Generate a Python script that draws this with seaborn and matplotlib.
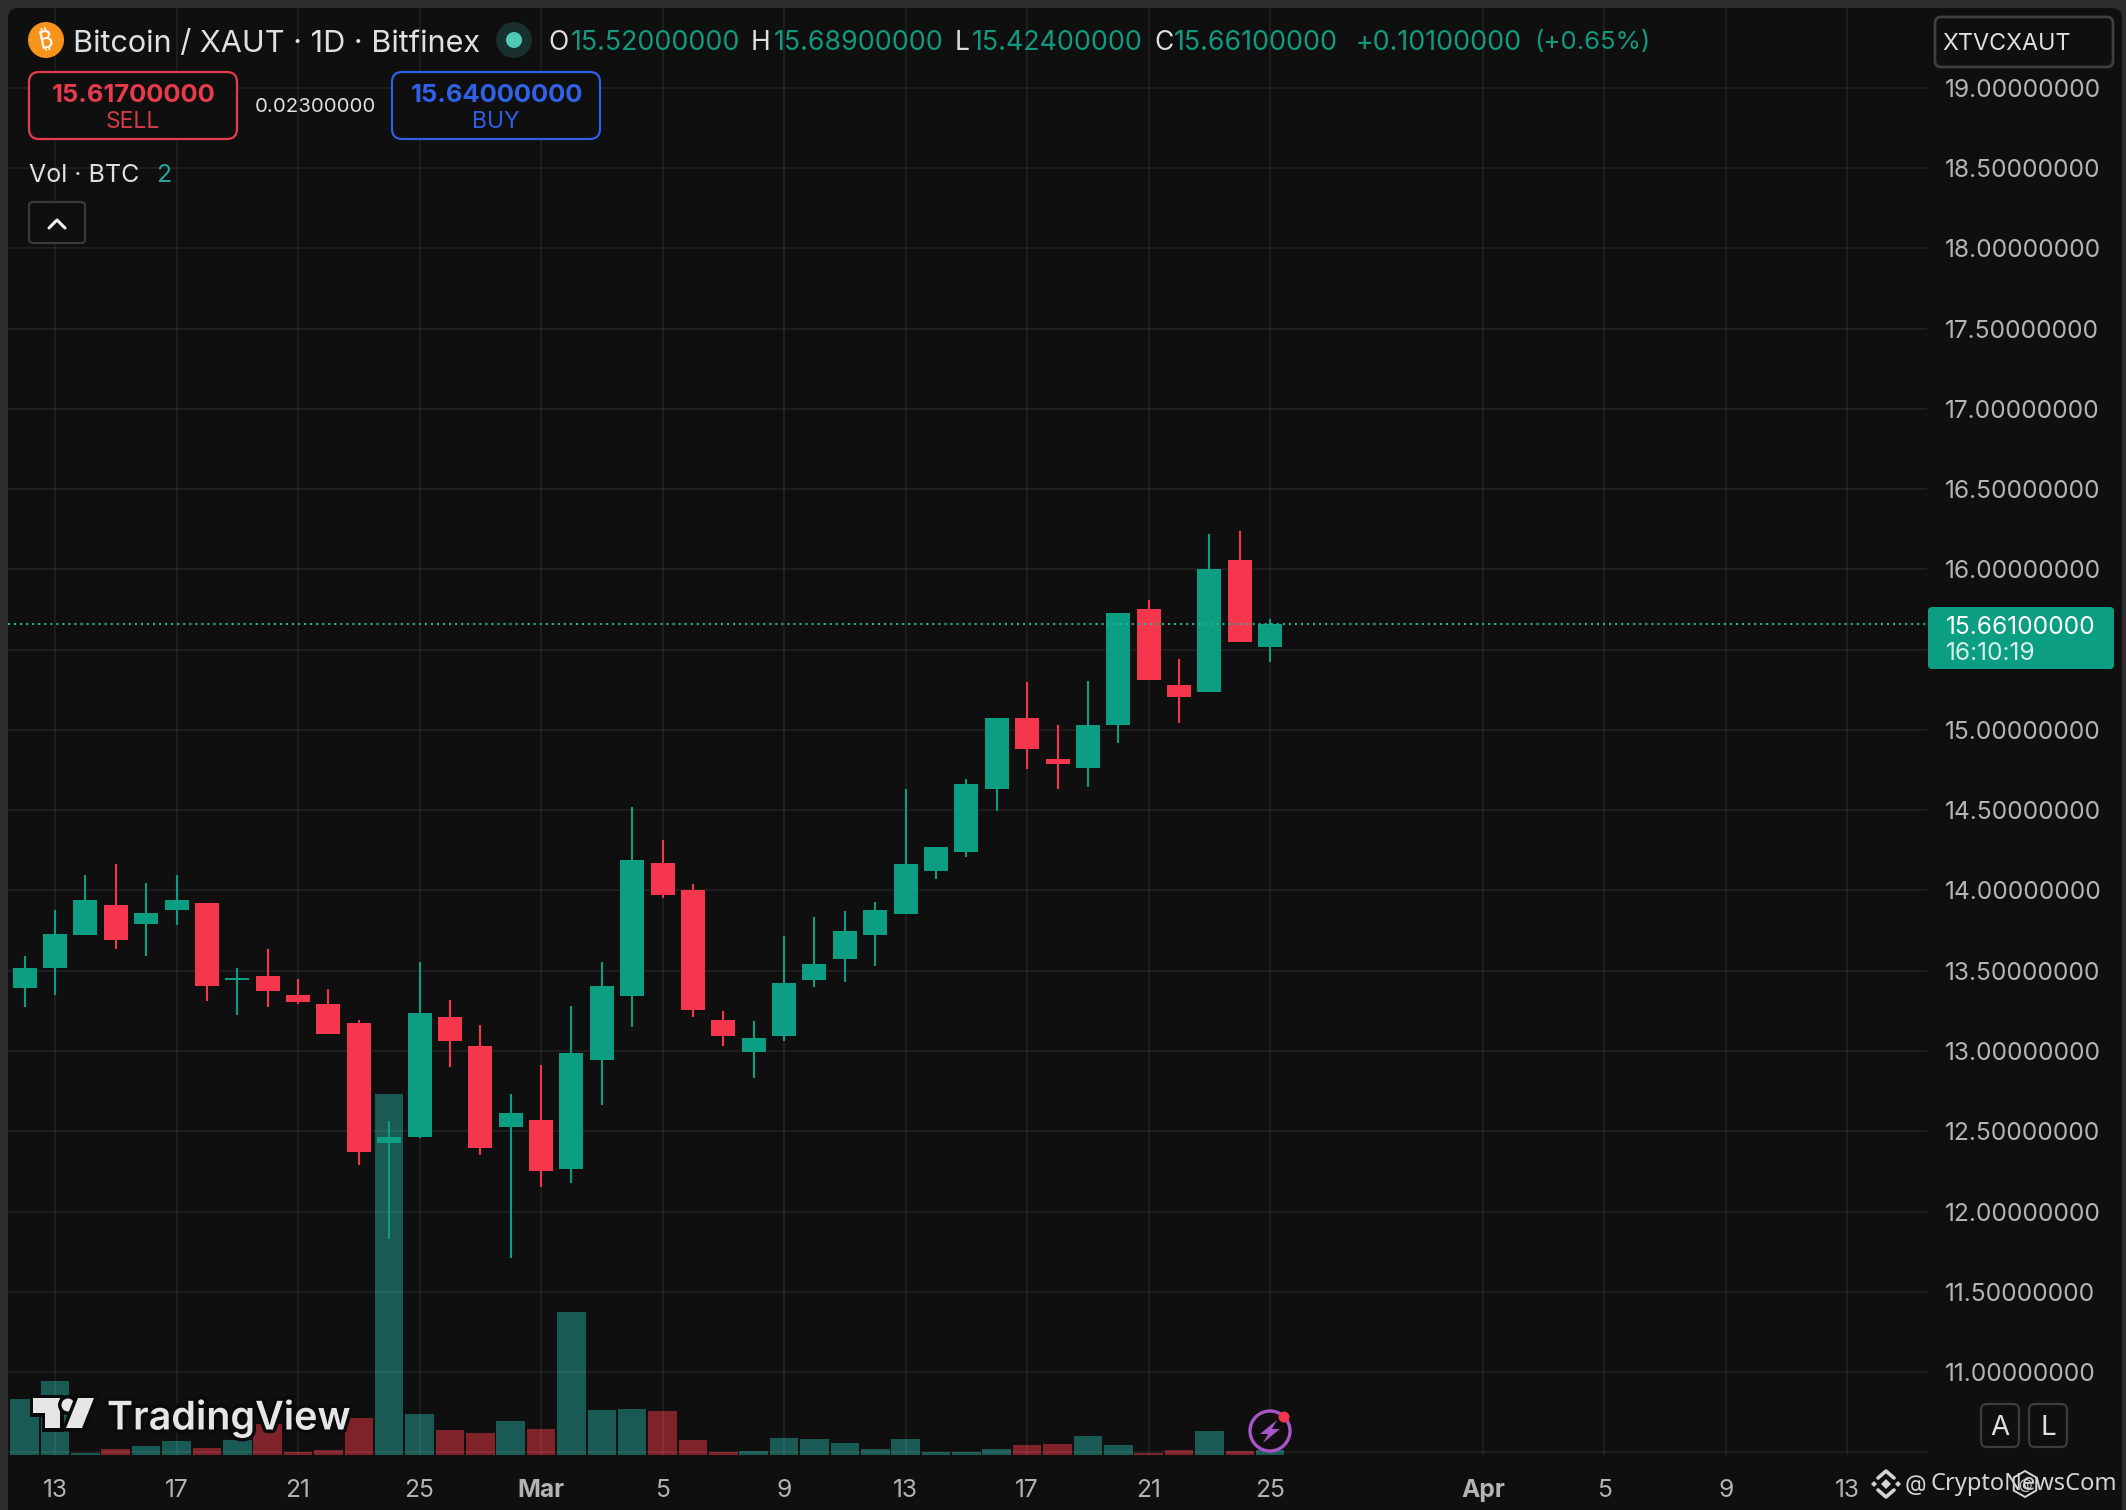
"""Bitcoin / XAUT daily candles with volume, dark TradingView look."""

import matplotlib
matplotlib.use('Agg')
import matplotlib.pyplot as plt
import matplotlib.patheffects as pe
from matplotlib.patches import Circle, FancyBboxPatch, Polygon, RegularPolygon
import numpy as np
import pandas as pd
import seaborn as sns

# day number, Feb 13 = 0
days = list(range(-1, 41))

opens = [13.394, 13.519, 13.724, 13.909, 13.793, 13.878, 13.922, 13.442, 13.467, 13.348,
         13.292, 13.174, 12.424, 12.466, 13.211, 13.031, 12.526, 12.570, 12.266, 12.946,
         13.342, 14.171, 14.003, 13.193, 12.993, 13.093, 13.442, 13.573, 13.722, 13.853,
         14.121, 14.242, 14.632, 15.075, 14.819, 14.765, 15.031, 15.754, 15.280, 15.239,
         16.059, 15.520]
highs = [13.591, 13.878, 14.096, 14.165, 14.046, 14.096, 13.922, 13.515, 13.635, 13.448,
         13.388, 13.191, 12.563, 13.554, 13.317, 13.159, 12.732, 12.912, 13.280, 13.554,
         14.520, 14.312, 14.040, 13.251, 13.189, 13.716, 13.836, 13.874, 13.930, 14.634,
         14.271, 14.693, 15.075, 15.299, 15.031, 15.305, 15.729, 15.810, 15.442, 16.221,
         16.240, 15.689]
lows = [13.276, 13.348, 13.724, 13.635, 13.593, 13.782, 13.313, 13.226, 13.276, 13.292,
        13.108, 12.289, 11.830, 12.457, 12.902, 12.352, 11.710, 12.150, 12.179, 12.663,
        13.147, 13.953, 13.211, 13.031, 12.831, 13.062, 13.396, 13.432, 13.527, 13.853,
        14.072, 14.209, 14.497, 14.757, 14.632, 14.645, 14.921, 15.314, 15.044, 15.239,
        15.548, 15.424]
closes = [13.517, 13.729, 13.940, 13.693, 13.859, 13.940, 13.407, 13.454, 13.375, 13.307,
          13.108, 12.372, 12.462, 13.236, 13.064, 12.397, 12.613, 12.254, 12.987, 13.404,
          14.190, 13.972, 13.257, 13.093, 13.081, 13.423, 13.542, 13.747, 13.878, 14.165,
          14.271, 14.664, 15.075, 14.884, 14.788, 15.031, 15.729, 15.314, 15.206, 16.003,
          15.548, 15.661]
volumes = [56, 74, 2, 6, 9, 14, 7, 15, 31, 3, 5, 37, 361, 41, 25, 22, 34, 26, 143, 45,
           46, 44, 15, 3, 4, 17, 16, 12, 6, 16, 3, 3, 6, 10, 11, 19, 10, 2, 5, 24, 4, 5]

price_ticks = [10.5, 11, 11.5, 12, 12.5, 13, 13.5, 14, 14.5, 15, 15.5, 16, 16.5, 17, 17.5, 18, 18.5, 19]
date_ticks = [0, 4, 8, 12, 16, 20, 24, 28, 32, 36, 40, 47, 51, 55, 59]
date_labels = ['13', '17', '21', '25', 'Mar', '5', '9', '13', '17', '21', '25', 'Apr', '5', '9', '13']

BG = '#0f0f0f'
FRAME = '#2d2d2d'
UP = '#0b9e82'
DOWN = '#f5364c'
VOL_UP = '#26a69a'
VOL_DOWN = '#f23645'
TEXT = '#b4b4b4'
LIGHT = '#e0e0e0'
W, H = 2126, 1510

sns.set_theme(style='dark', rc={'figure.facecolor': FRAME, 'axes.facecolor': BG})
plt.rcParams['font.family'] = ['Inter', 'DejaVu Sans']

fig = plt.figure(figsize=(W / 100, H / 100), dpi=100)

# rounded chart pane behind everything
back = fig.add_axes([0, 0, 1, 1], zorder=0)
back.set_xlim(0, W)
back.set_ylim(H, 0)
back.axis('off')
back.add_patch(FancyBboxPatch((8, 8), 2114, 1560, boxstyle='round,pad=0,rounding_size=10',
                              fc=BG, ec='none'))

ax = fig.add_axes([8 / W, (H - 1455) / H, 1919 / W, 1447 / H], zorder=2)
ax.patch.set_visible(False)
ax_vol = ax.twinx()
ax_vol.set_zorder(1)
ax.set_zorder(2)

df = pd.DataFrame({'day': days, 'open': opens, 'high': highs, 'low': lows,
                   'close': closes, 'volume': volumes})
df['up'] = df['close'] >= df['open']
df['base'] = df[['open', 'close']].min(axis=1)
df['height'] = (df['close'] - df['open']).abs()

# volume bars sit at the bottom on their own scale
sns.barplot(data=df, x='day', y='volume', hue='up', palette={True: VOL_UP, False: VOL_DOWN},
            native_scale=True, dodge=False, width=0.94, errorbar=None, saturation=1,
            alpha=0.5, linewidth=0, legend=False, ax=ax_vol)
ax_vol.set_ylim(0, 1447)
ax_vol.axis('off')

# candle bodies and wicks
for is_up, color in [(True, UP), (False, DOWN)]:
    part = df[df['up'] == is_up].sort_values('day')
    ax.vlines(part['day'], part['low'], part['high'], color=color, lw=1.5)
    sns.barplot(data=part, x='day', y='height', bottom=part['base'].to_numpy(),
                native_scale=True, width=0.79, errorbar=None, color=color, saturation=1,
                linewidth=0, ax=ax)

ax.axhline(closes[-1], color='#23b29a', lw=1.5, ls=(0, (1, 1.9)), zorder=4)

ax.set_xlim(-1.547, 61.62)
ax.set_ylim(10.483, 19.498)
ax.set_xticks(date_ticks)
ax.set_xticklabels(date_labels)
ax.set_yticks(price_ticks)
ax.set_yticklabels(['' if p == 10.5 else f'{p:.8f}' for p in price_ticks])
ax.yaxis.tick_right()
ax.set_xlabel('')
ax.set_ylabel('')
ax.grid(True, color='white', alpha=0.06, lw=1.5)
ax.set_axisbelow(True)
ax.tick_params(axis='x', length=0, pad=17, labelsize=17.7, labelcolor=TEXT)
ax.tick_params(axis='y', length=0, pad=13, labelsize=17.7, labelcolor=TEXT)
for lab in ax.get_xticklabels():
    if lab.get_text() in ('Mar', 'Apr'):
        lab.set_fontweight('bold')
for spine in ax.spines.values():
    spine.set_visible(False)

# everything from the app interface goes on a pixel overlay
ui = fig.add_axes([0, 0, 1, 1], zorder=5)
ui.set_xlim(0, W)
ui.set_ylim(H, 0)
ui.axis('off')


def label(x, y, s, size=16.5, color=LIGHT, ha='left', **kw):
    return ui.text(x, y, s, fontsize=size, color=color, ha=ha, va='center', **kw)


def box(x0, y0, x1, y1, ec, fc=BG, lw=1.6, r=8):
    ui.add_patch(FancyBboxPatch((x0, y0), x1 - x0, y1 - y0,
                                boxstyle=f'round,pad=0,rounding_size={r}', fc=fc, ec=ec, lw=lw))


# header line
ui.add_patch(Circle((46, 40), 18, fc='#f7931a', ec='none'))
label(46, 41, '\u20bf', size=18, color='white', ha='center',
      family=['Noto Sans', 'Roboto', 'Open Sans', 'Lato', 'Liberation Sans', 'DejaVu Sans'],
      fontweight='bold', rotation=12)
label(73, 44, 'Bitcoin / XAUT \u00b7 1D \u00b7 Bitfinex', size=22.05)
ui.add_patch(Circle((514, 40), 18, fc='#17302d', ec='none'))
ui.add_patch(Circle((514, 40), 8, fc='#4ecbb4', ec='none'))
for x, s in [(548, 'O'), (751, 'H'), (955, 'L'), (1154, 'C')]:
    label(x, 43, s, size=19)
for x, s in [(571, '15.52000000'), (774, '15.68900000'), (972, '15.42400000'),
             (1174, '15.66100000'), (1356, '+0.10100000'), (1534, '(+0.65%)')]:
    label(x, 43, s, size=19.3 if s != '(+0.65%)' else 18.5, color='#119a80')

# sell and buy buttons
box(29, 72, 237, 139, '#e63b4b', r=10)
label(134, 95, '15.61700000', size=18.4, color='#e63b4b', ha='center', fontweight='bold')
label(133, 122, 'SELL', size=16.5, color='#d63a48', ha='center')
label(315, 107, '0.02300000', size=14.7, ha='center')
box(392, 72, 600, 139, '#2f5fe0', r=10)
label(497, 95, '15.64000000', size=18.4, color='#2f62e6', ha='center', fontweight='bold')
label(496, 122, 'BUY', size=16.5, color='#2f5fe0', ha='center')

label(29, 175, 'Vol \u00b7 BTC', size=18)
label(156, 175, '2', size=18, color='#26a69a')
box(29, 202, 85, 243, '#3a3a3a', r=4)
ui.plot([49, 57, 65], [228, 220, 228], color='#eeeeee', lw=2.2)

# symbol box and last price tag
box(1935, 17, 2113, 67, '#3f3f3f', r=6, lw=2)
label(1942, 44, 'XTVCXAUT', size=16.8)
box(1928, 607, 2114, 669, UP, fc=UP, lw=0, r=4)
label(1946, 627, '15.66100000', size=17.7, color='white')
label(1946, 654, '16:10:19', size=17.7, color='#d3efe8')

# A / L buttons
box(1981, 1404, 2019, 1447, '#3c3c3c', r=6)
box(2029, 1404, 2067, 1447, '#3c3c3c', r=6)
label(2000, 1428, 'A', size=20, ha='center')
label(2048, 1428, 'L', size=20, ha='center')

# TradingView logo
halo = [pe.withStroke(linewidth=5, foreground='#0a0a0a')]
logo = '#e6e6e6'
ui.add_patch(Polygon([(33, 1398), (60, 1398), (60, 1428), (45, 1428), (45, 1413), (33, 1413)],
                     fc=logo, ec='none', path_effects=halo))
ui.add_patch(Circle((68, 1405), 6.5, fc=logo, ec='none', path_effects=halo))
ui.add_patch(Polygon([(78, 1398), (94, 1398), (82, 1428), (66, 1428)], fc=logo, ec='none',
                     path_effects=halo))
label(107, 1418, 'TradingView', size=28.4, color=logo, fontweight='semibold', path_effects=halo)

# lightning badge
ui.add_patch(Circle((1270, 1431), 20, fc=BG, ec='#a855c7', lw=2.4))
ui.add_patch(Polygon([(1277, 1420), (1260, 1434), (1268, 1434), (1263, 1443), (1280, 1429),
                      (1272, 1429)], fc='#a855c7', ec='none'))
ui.add_patch(Circle((1284, 1417), 5.5, fc='#f5364c', ec='none'))

# source watermark
mark = '#d4d4d4'
ui.plot([1878, 1886, 1894], [1478, 1471, 1478], color=mark, lw=2.6)
ui.plot([1878, 1886, 1894], [1490, 1497, 1490], color=mark, lw=2.6)
for cx, cy, s in [(1874, 1484, 3), (1898, 1484, 3), (1886, 1484, 5)]:
    ui.add_patch(RegularPolygon((cx, cy), 4, radius=s, fc=mark, ec='none'))
label(1905, 1485, '@', size=16, color=mark)
label(1930, 1484, 'CryptoNewsCom', size=17, color=mark, family='Noto Sans')
ui.add_patch(RegularPolygon((2025, 1484), 6, radius=13, fc=BG, ec=mark, lw=1.4))
label(2025, 1485, '@', size=10, color=mark, ha='center')

fig.savefig('out.png', dpi=100, facecolor=fig.get_facecolor())
plt.close(fig)
